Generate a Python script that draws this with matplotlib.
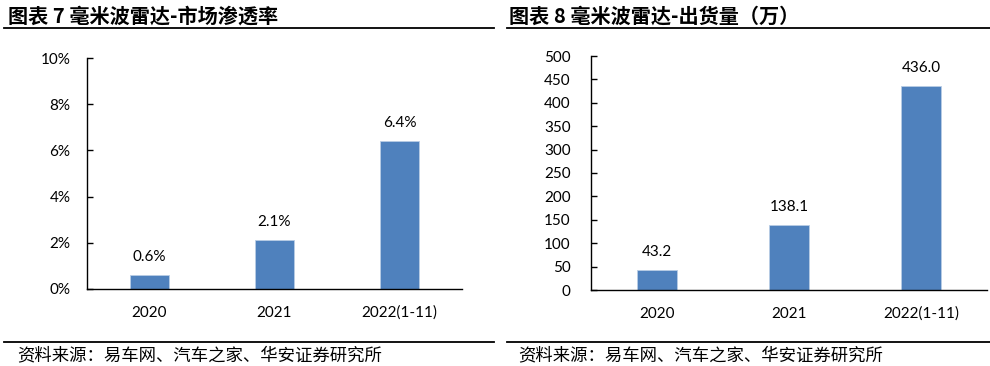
import numpy as np
import matplotlib.pyplot as plt
from matplotlib.lines import Line2D
from matplotlib.ticker import FuncFormatter

plt.rcParams['font.family'] = ['Lato', 'Noto Sans CJK SC', 'DejaVu Sans']

# données
categories = ['2020', '2021', '2022(1-11)']
penetration = [0.6, 2.1, 6.4]      # %
shipments = [43.2, 138.1, 436.0]   # 万
title_left = '图表 7 毫米波雷达-市场渗透率'
title_right = '图表 8 毫米波雷达-出货量（万）'
source = '资料来源：易车网、汽车之家、华安证券研究所'

bar_color = '#4F81BD'
W, H = 990, 366

fig = plt.figure(figsize=(W / 100, H / 100), dpi=100)

def box(x0, y0, x1, y1):
    # coordonnées pixels -> fraction de figure
    return [x0 / W, 1 - y1 / H, (x1 - x0) / W, (y1 - y0) / H]

ax1 = fig.add_axes(box(87, 58, 462, 289))
ax2 = fig.add_axes(box(591, 56, 987, 290))

def style(ax):
    for s in ['top', 'right']:
        ax.spines[s].set_visible(False)
    for s in ['left', 'bottom']:
        ax.spines[s].set_linewidth(1.0)
        ax.spines[s].set_color('black')
    ax.tick_params(axis='y', direction='in', length=4, width=1, labelsize=11)
    ax.tick_params(axis='x', length=0, labelsize=11, pad=12)
    ax.set_xlim(-0.5, len(categories) - 0.5)

x = np.arange(len(categories))

ax1.bar(x, penetration, width=0.31, color=bar_color, edgecolor='#B9CDE5', linewidth=0.6)
ax1.set_ylim(0, 10)
ax1.set_yticks(np.arange(0, 11, 2))
ax1.yaxis.set_major_formatter(FuncFormatter(lambda v, p: f'{v:.0f}%'))
for xi, v in zip(x, penetration):
    ax1.annotate(f'{v:.1f}%', (xi, v), xytext=(0, 8), textcoords='offset points',
                 ha='center', va='bottom', fontsize=11)
ax1.set_xticks(x, categories)
style(ax1)
ax1.tick_params(axis='y', pad=12)

ax2.bar(x, shipments, width=0.31, color=bar_color, edgecolor='#B9CDE5', linewidth=0.6)
ax2.set_ylim(0, 500)
ax2.set_yticks(np.arange(0, 501, 50))
for xi, v in zip(x, shipments):
    ax2.annotate(f'{v:.1f}', (xi, v), xytext=(0, 8), textcoords='offset points',
                 ha='center', va='bottom', fontsize=11)
ax2.set_xticks(x, categories)
style(ax2)
ax2.tick_params(axis='y', pad=14.5)

# titres et sources
cjk = ['Noto Sans CJK SC', 'DejaVu Sans']
fig.text(8 / W, 1 - 16 / H, title_left, fontsize=14.5, fontweight='bold', family=cjk,
         ha='left', va='center')
fig.text(509 / W, 1 - 16 / H, title_right, fontsize=14.5, fontweight='bold', family=cjk,
         ha='left', va='center')
fig.text(17 / W, 1 - 355 / H, source, fontsize=12.5, family=cjk, ha='left', va='center')
fig.text(518 / W, 1 - 355 / H, source, fontsize=12.5, family=cjk, ha='left', va='center')

for (x0, x1) in [(4, 494), (507, 990)]:
    for y in (28, 342):
        fig.add_artist(Line2D([x0 / W, x1 / W], [1 - y / H, 1 - y / H],
                              color='black', linewidth=1.3))

fig.savefig('out.png', dpi=100)
